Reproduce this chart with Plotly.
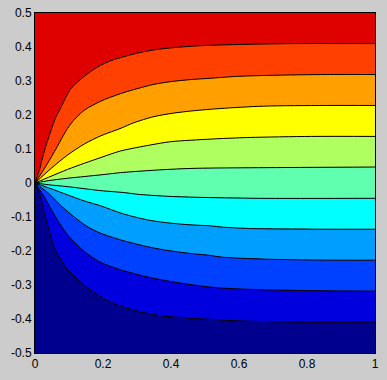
import plotly.graph_objects as go

# Contour levels (11 equal bands between -0.5 and 0.5) and band colours (MATLAB jet, 64)
levels = [0.409, 0.318, 0.227, 0.136, 0.045, -0.045, -0.136, -0.227, -0.318, -0.409]
band_colors = ["#DF0000", "#FF4000", "#FF9F00", "#FFFF00", "#AFFF60", "#60FFAF",
               "#00FFFF", "#009FFF", "#0040FF", "#0000DF", "#00008F"]

# Contour lines (x, y), from the origin to x = 1
c1_x = [0, 0.013, 0.023, 0.033, 0.0426, 0.0523, 0.062, 0.077, 0.0915, 0.106, 0.126, 0.145, 0.170, 0.194, 0.224, 0.263, 0.310, 0.368, 0.456, 0.515, 0.584, 0.755, 1.0]
c1_y = [0, 0.038, 0.077, 0.112, 0.141, 0.170, 0.195, 0.224, 0.2535, 0.278, 0.2975, 0.314, 0.332, 0.3465, 0.360, 0.372, 0.384, 0.394, 0.402, 0.405, 0.407, 0.410, 0.410]

c2_x = [0, 0.028, 0.057, 0.096, 0.116, 0.145, 0.194, 0.255, 0.310, 0.349, 0.398, 0.456, 0.515, 0.584, 0.665, 0.843, 1.0]
c2_y = [0, 0.043, 0.092, 0.161, 0.187, 0.214, 0.241, 0.264, 0.280, 0.290, 0.298, 0.304, 0.308, 0.313, 0.316, 0.319, 0.319]

c3_x = [0, 0.0475, 0.096, 0.145, 0.194, 0.233, 0.255, 0.290, 0.349, 0.407, 0.466, 0.5445, 0.6716, 0.855, 1.0]
c3_y = [0, 0.043, 0.0823, 0.1146, 0.139, 0.1537, 0.162, 0.177, 0.195, 0.2055, 0.2124, 0.219, 0.226, 0.228, 0.228]

c4_x = [0, 0.0475, 0.096, 0.145, 0.194, 0.251, 0.339, 0.398, 0.515, 0.554, 0.6325, 0.8136, 1.0]
c4_y = [0, 0.020, 0.040, 0.058, 0.075, 0.094, 0.1117, 0.1214, 0.129, 0.131, 0.134, 0.137, 0.137]

c5_x = [0, 0.0475, 0.096, 0.145, 0.194, 0.251, 0.329, 0.398, 0.476, 0.657, 1.0]
c5_y = [0, 0.008, 0.014, 0.019, 0.024, 0.0304, 0.0362, 0.0403, 0.0433, 0.045, 0.047]

c6_x = [0, 0.0475, 0.096, 0.194, 0.263, 0.300, 0.388, 0.476, 0.657, 1.0]
c6_y = [0, -0.006, -0.0107, -0.0225, -0.0283, -0.033, -0.039, -0.042, -0.045, -0.045]

c7_x = [0, 0.0475, 0.096, 0.145, 0.194, 0.251, 0.290, 0.339, 0.398, 0.456, 0.515, 0.554, 0.6375, 0.818, 1.0]
c7_y = [0, -0.017, -0.035, -0.0527, -0.0674, -0.088, -0.099, -0.110, -0.118, -0.123, -0.126, -0.130, -0.134, -0.1358, -0.136]

c8_x = [0, 0.0376, 0.077, 0.116, 0.155, 0.194, 0.251, 0.280, 0.329, 0.378, 0.4467, 0.515, 0.549, 0.6766, 0.855, 1.0]
c8_y = [0, -0.0283, -0.0674, -0.1006, -0.129, -0.148, -0.167, -0.175, -0.187, -0.1965, -0.206, -0.213, -0.218, -0.224, -0.2268, -0.227]

c9_x = [0, 0.028, 0.057, 0.096, 0.145, 0.194, 0.251, 0.290, 0.329, 0.398, 0.466, 0.535, 0.665, 0.848, 1.0]
c9_y = [0, -0.042, -0.0938, -0.1525, -0.2015, -0.2338, -0.255, -0.266, -0.276, -0.2895, -0.300, -0.308, -0.314, -0.317, -0.318]

c10_x = [0, 0.0132, 0.023, 0.0328, 0.0426, 0.0523, 0.062, 0.0766, 0.0915, 0.111, 0.1306, 0.155, 0.184, 0.2236, 0.251, 0.3097, 0.368, 0.4467, 0.515, 0.5835, 0.755, 1.0]
c10_y = [0, -0.030, -0.0694, -0.1085, -0.1428, -0.1769, -0.2015, -0.2259, -0.2503, -0.270, -0.2895, -0.309, -0.3286, -0.351, -0.362, -0.379, -0.390, -0.397, -0.401, -0.405, -0.409, -0.409]

x_ticks = [0, 0.2, 0.4, 0.6, 0.8, 1]
x_tick_labels = ["0", "0.2", "0.4", "0.6", "0.8", "1"]
y_ticks = [-0.5, -0.4, -0.3, -0.2, -0.1, 0, 0.1, 0.2, 0.3, 0.4, 0.5]
y_tick_labels = ["-0.5", "-0.4", "-0.3", "-0.2", "-0.1", "0", "0.1", "0.2", "0.3", "0.4", "0.5"]

x_range = [0, 1]
y_range = [-0.5, 0.5]

lines = [(c1_x, c1_y), (c2_x, c2_y), (c3_x, c3_y), (c4_x, c4_y), (c5_x, c5_y),
         (c6_x, c6_y), (c7_x, c7_y), (c8_x, c8_y), (c9_x, c9_y), (c10_x, c10_y)]

fig = go.Figure()

# filled bands between consecutive contour lines (fill='tonexty')
fig.add_trace(go.Scatter(x=c1_x, y=c1_y, mode="lines", line=dict(width=0, shape="spline", smoothing=0.8),
                         hoverinfo="skip", showlegend=False))
for k in range(1, len(lines)):
    lx, ly = lines[k]
    fig.add_trace(go.Scatter(x=lx, y=ly, mode="lines", fill="tonexty", fillcolor=band_colors[k],
                             line=dict(width=0, shape="spline", smoothing=0.8),
                             hoverinfo="skip", showlegend=False))
# bottom band: from the last contour line down to the lower edge
fig.add_trace(go.Scatter(x=[c10_x[0], c10_x[0], x_range[1]], y=[c10_y[0], y_range[0], y_range[0]],
                         mode="lines", fill="tonexty", fillcolor=band_colors[10],
                         line=dict(width=0), hoverinfo="skip", showlegend=False))

# black contour lines on top
for lx, ly in lines:
    fig.add_trace(go.Scatter(x=lx, y=ly, mode="lines",
                             line=dict(color="black", width=1, shape="spline", smoothing=0.8),
                             hoverinfo="skip", showlegend=False))

font = dict(family="Liberation Sans, Arial, Helvetica, sans-serif", size=12, color="black")

fig.update_layout(
    width=387, height=380,
    margin=dict(l=35, r=12, t=13, b=27, autoexpand=False),
    paper_bgcolor="#CCCCCC",
    plot_bgcolor=band_colors[0],
    showlegend=False,
    font=font,
    xaxis=dict(range=x_range, tickvals=x_ticks, ticktext=x_tick_labels, automargin=False,
               showgrid=False, zeroline=False, showline=True, linecolor="black",
               linewidth=1, mirror=True, ticks="", tickfont=font, fixedrange=True),
    yaxis=dict(range=y_range, tickvals=y_ticks, ticktext=y_tick_labels, automargin=False,
               showgrid=False, zeroline=False, showline=True, linecolor="black",
               linewidth=1, mirror=True, ticks="", tickfont=font, fixedrange=True),
)

fig.write_html("out.html", config={"displayModeBar": False})
